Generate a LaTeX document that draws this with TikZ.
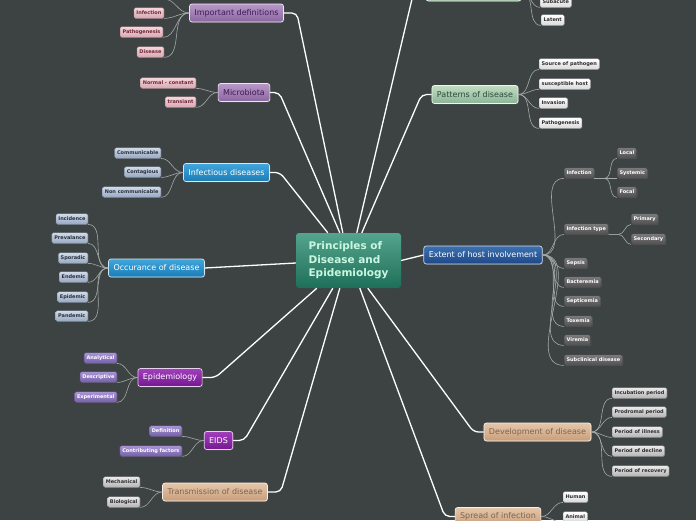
\documentclass[tikz,border=0pt]{standalone}
\usepackage{fontspec}
\setmainfont{DejaVu Sans}
\usepackage{tikz}
\usetikzlibrary{positioning,calc,shadows}

\definecolor{bgc}{HTML}{3D4343}
\definecolor{rootA}{HTML}{55A48D}\definecolor{rootB}{HTML}{1E6F59}\definecolor{rootT}{HTML}{C9F7E2}
\definecolor{lilA}{HTML}{B898C8}\definecolor{lilB}{HTML}{8A66A0}\definecolor{lilT}{HTML}{3E1A55}
\definecolor{bluA}{HTML}{40A6DC}\definecolor{bluB}{HTML}{1A7CB6}
\definecolor{magA}{HTML}{A040BA}\definecolor{magB}{HTML}{741890}
\definecolor{tanA}{HTML}{E6C6A8}\definecolor{tanB}{HTML}{C89E7C}\definecolor{tanT}{HTML}{7A6654}
\definecolor{grnA}{HTML}{C0DCC0}\definecolor{grnB}{HTML}{8CB496}\definecolor{grnT}{HTML}{2E4A3E}
\definecolor{navA}{HTML}{3E70AE}\definecolor{navB}{HTML}{1C4888}
\definecolor{pnkA}{HTML}{F4D6DA}\definecolor{pnkB}{HTML}{D8A8B2}\definecolor{pnkT}{HTML}{6E2A3A}
\definecolor{slaA}{HTML}{D0DAE8}\definecolor{slaB}{HTML}{98A8C2}\definecolor{slaT}{HTML}{28303E}
\definecolor{vioA}{HTML}{A894D4}\definecolor{vioB}{HTML}{7460A8}
\definecolor{gryA}{HTML}{EAEAEA}\definecolor{gryB}{HTML}{B4B4B4}\definecolor{gryT}{HTML}{2E2E2E}
\definecolor{whtA}{HTML}{FFFFFF}\definecolor{whtB}{HTML}{DADADA}
\definecolor{dgrA}{HTML}{7A7A7A}\definecolor{dgrB}{HTML}{505050}
\definecolor{twigc}{HTML}{A4A8A8}

\begin{document}
\begin{tikzpicture}[x=1pt,y=-1pt,
  topic/.style 2 args={rectangle,rounded corners=2.5pt,draw=white!75!#1,line width=0.7pt,
    top color=#1,bottom color=#2,minimum height=18pt,inner xsep=5pt,inner ysep=2pt,
    font=\fontsize{8}{9.6}\selectfont,
    drop shadow={shadow xshift=0.8pt,shadow yshift=-0.8pt,opacity=0.35}},
  leaf/.style 2 args={rectangle,rounded corners=1.5pt,draw=#2!80!black,line width=0.3pt,
    top color=#1,bottom color=#2,minimum height=10.5pt,inner xsep=2.4pt,inner ysep=1pt,
    font=\fontsize{5}{6}\selectfont\bfseries,
    drop shadow={shadow xshift=0.6pt,shadow yshift=-0.6pt,opacity=0.45}},
  lilactopic/.style={topic={lilA}{lilB},text=lilT},
  bluetopic/.style={topic={bluA}{bluB},text=white},
  magtopic/.style={topic={magA}{magB},text=white},
  tantopic/.style={topic={tanA}{tanB},text=tanT},
  greentopic/.style={topic={grnA}{grnB},text=grnT},
  navytopic/.style={topic={navA}{navB},text=white},
  pinkleaf/.style={leaf={pnkA}{pnkB},text=pnkT,anchor=east},
  slateleaf/.style={leaf={slaA}{slaB},text=slaT,anchor=east},
  violeaf/.style={leaf={vioA}{vioB},text=white,anchor=east},
  greyleaf/.style={leaf={gryA}{gryB},text=gryT},
  whiteleaf/.style={leaf={whtA}{whtB},text=gryT,anchor=west},
  darkleaf/.style={leaf={dgrA}{dgrB},text=white,anchor=west},
  limb/.style={draw=white,line width=1.3pt,rounded corners=5pt},
  twig/.style={draw=twigc,line width=0.6pt}]
\useasboundingbox (0,0) rectangle (696,520);
\fill[bgc] (0,0) rectangle (696,520);

% centre
\node[rectangle,rounded corners=3pt,top color=rootA,bottom color=rootB,text=rootT,
  minimum width=105pt,minimum height=55pt,inner xsep=10pt,align=left,
  font=\fontsize{10.5}{13.5}\selectfont\bfseries] (root) at (348.5,260.5)
  {Principles of\\Disease and\\Epidemiology};

% main topics
\node[lilactopic] (idef) at (236.5,13) {Important definitions};
\node[lilactopic] (micro) at (244,92.5) {Microbiota};
\node[bluetopic] (infd) at (226.5,172.5) {Infectious diseases};
\node[bluetopic] (occ) at (156.5,268) {Occurance of disease};
\node[magtopic] (epi) at (170,377.5) {Epidemiology};
\node[magtopic] (eids) at (218.5,440.5) {EIDS};
\node[tantopic] (trans) at (215,492) {Transmission of disease};
\node[greentopic,minimum width=95pt] (topg) at (473.5,-8) {};
\node[greentopic] (pat) at (475,94.5) {Patterns of disease};
\node[navytopic] (ext) at (483,255) {Extent of host involvement};
\node[tantopic] (dev) at (537.5,432) {Development of disease};
\node[tantopic] (spread) at (498,516.5) {Spread of infection};

% left leaves
\coordinate (idefup) at (164,-1);
\node[pinkleaf] (idef1) at (164,13) {Infection};
\node[pinkleaf] (idef2) at (163,32) {Pathogenesis};
\node[pinkleaf] (idef3) at (164,52) {Disease};
\node[pinkleaf] (micro1) at (196,83) {Normal - constant};
\node[pinkleaf] (micro2) at (196,102) {transiant};
\node[slateleaf] (infd1) at (161,153) {Communicable};
\node[slateleaf] (infd2) at (161,172) {Contagious};
\node[slateleaf] (infd3) at (161,192) {Non communicable};
\node[slateleaf] (occ1) at (88,219) {Incidence};
\node[slateleaf] (occ2) at (88,238) {Prevalance};
\node[slateleaf] (occ3) at (88,258) {Sporadic};
\node[slateleaf] (occ4) at (88,277) {Endemic};
\node[slateleaf] (occ5) at (88,297) {Epidemic};
\node[slateleaf] (occ6) at (88,316) {Pandemic};
\node[violeaf] (epi1) at (117,358) {Analytical};
\node[violeaf] (epi2) at (117,377) {Descriptive};
\node[violeaf] (epi3) at (117,397) {Experimental};
\node[violeaf] (eids1) at (182,431) {Definition};
\node[violeaf] (eids2) at (182,451) {Contributing factors};
\node[greyleaf,anchor=east] (trans1) at (140,482) {Mechanical};
\node[greyleaf,anchor=east] (trans2) at (140,502) {Biological};

% right leaves
\node[whiteleaf] (topg1) at (540,2) {Subacute};
\node[whiteleaf] (topg2) at (541,20) {Latent};
\node[whiteleaf] (pat1) at (539,64) {Source of pathogen};
\node[whiteleaf] (pat2) at (539,84) {susceptible host};
\node[whiteleaf] (pat3) at (539,103) {Invasion};
\node[whiteleaf] (pat4) at (539,123) {Pathogenesis};
\node[darkleaf] (inf) at (564,173) {Infection};
\node[darkleaf] (inftype) at (564,229) {Infection type};
\node[darkleaf] (ext3) at (564,263) {Sepsis};
\node[darkleaf] (ext4) at (564,282) {Bacteremia};
\node[darkleaf] (ext5) at (564,301) {Septicemia};
\node[darkleaf] (ext6) at (564,321) {Toxemia};
\node[darkleaf] (ext7) at (564,340) {Viremia};
\node[darkleaf] (ext8) at (564,360) {Subclinical disease};
\node[darkleaf] (loc) at (617,153) {Local};
\node[darkleaf] (sys) at (617,173) {Systemic};
\node[darkleaf] (foc) at (617,192) {Focal};
\node[darkleaf] (prim) at (631,219) {Primary};
\node[darkleaf] (sec) at (631,239) {Secondary};
\node[greyleaf,anchor=west] (dev1) at (612,393) {Incubation period};
\node[greyleaf,anchor=west] (dev2) at (612,412) {Prodromal period};
\node[greyleaf,anchor=west] (dev3) at (612,432) {Period of illness};
\node[greyleaf,anchor=west] (dev4) at (612,451) {Period of decline};
\node[greyleaf,anchor=west] (dev5) at (612,471) {Period of recovery};
\node[whiteleaf] (spread1) at (563,497) {Human};
\node[whiteleaf] (spread2) at (563,517) {Animal};

% limbs from the centre
\draw[limb] ($(root.north west)+(47,0)$) -- ($(idef.east)+(13,0)$) -- (idef.east);
\draw[limb] ($(root.north west)+(44,0)$) -- ($(micro.east)+(9,0)$) -- (micro.east);
\draw[limb] ($(root.north west)+(32,0)$) -- ($(infd.east)+(10,0)$) -- (infd.east);
\draw[limb] ($(root.west)+(0,2.5)$) -- (occ.east);
\draw[limb] ($(root.south west)+(21,0)$) -- ($(epi.east)+(13,0)$) -- (epi.east);
\draw[limb] ($(root.south west)+(37,0)$) -- ($(eids.east)+(11,0)$) -- (eids.east);
\draw[limb] ($(root.south west)+(44,0)$) -- ($(trans.east)+(13,0)$) -- (trans.east);
\draw[limb] ($(root.north west)+(61,0)$) -- ($(topg.west)+(-12,0)$) -- (topg.west);
\draw[limb] ($(root.north west)+(66,0)$) -- ($(pat.west)+(-10,0)$) -- (pat.west);
\draw[limb] (root.east) -- (ext.west);
\draw[limb] ($(root.south west)+(72,0)$) -- ($(dev.west)+(-10,0)$) -- (dev.west);
\draw[limb] ($(root.south west)+(64,0)$) -- ($(spread.west)+(-10,0)$) -- (spread.west);

% twigs
\draw[twig] (idef.west) to[out=180,in=0] (idefup);
\foreach \c in {idef1,idef2,idef3} \draw[twig] (idef.west) to[out=180,in=0] (\c.south east);
\foreach \c in {micro1,micro2} \draw[twig] (micro.west) to[out=180,in=0] (\c.south east);
\foreach \c in {infd1,infd2,infd3} \draw[twig] (infd.west) to[out=180,in=0] (\c.south east);
\foreach \c in {occ1,occ2,occ3,occ4,occ5,occ6} \draw[twig] (occ.west) to[out=180,in=0] (\c.south east);
\foreach \c in {epi1,epi2,epi3} \draw[twig] (epi.west) to[out=180,in=0] (\c.south east);
\foreach \c in {eids1,eids2} \draw[twig] (eids.west) to[out=180,in=0] (\c.south east);
\foreach \c in {trans1,trans2} \draw[twig] (trans.west) to[out=180,in=0] (\c.south east);
\foreach \c in {topg1,topg2} \draw[twig] (topg.east) to[out=0,in=180] (\c.south west);
\foreach \c in {pat1,pat2,pat3,pat4} \draw[twig] (pat.east) to[out=0,in=180] (\c.south west);
\foreach \c in {inf,inftype,ext3,ext4,ext5,ext6,ext7,ext8} \draw[twig] (ext.east) to[out=0,in=180] (\c.south west);
\foreach \c in {loc,sys,foc} \draw[twig] (inf.south east) -- ++(10,0) to[out=0,in=180] (\c.south west);
\foreach \c in {prim,sec} \draw[twig] (inftype.south east) -- ++(10,0) to[out=0,in=180] (\c.south west);
\foreach \c in {dev1,dev2,dev3,dev4,dev5} \draw[twig] (dev.east) to[out=0,in=180] (\c.south west);
\foreach \c in {spread1,spread2} \draw[twig] (spread.east) to[out=0,in=180] (\c.south west);
\end{tikzpicture}
\end{document}
